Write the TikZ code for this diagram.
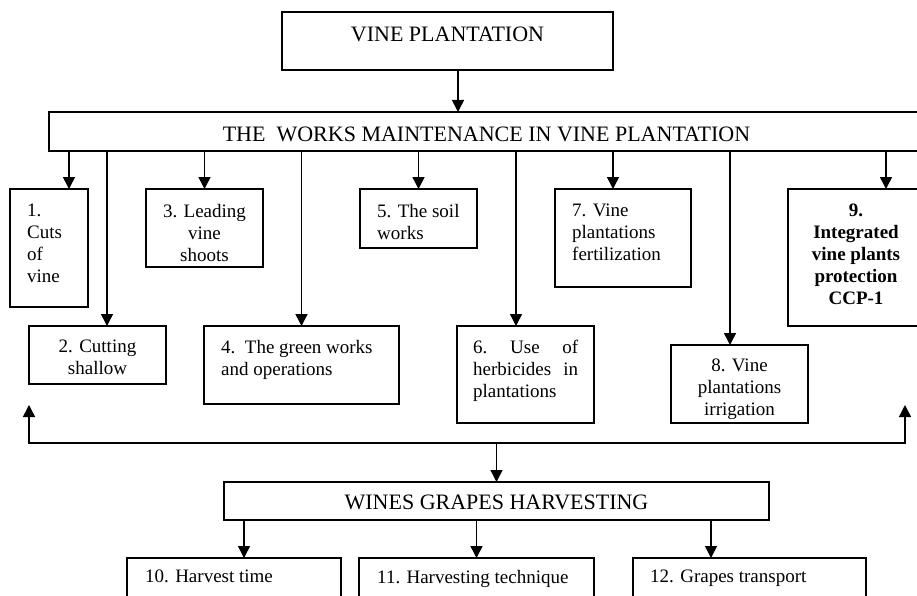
\documentclass[tikz,border=0pt]{standalone}
\usepackage{fontspec}
\setmainfont{Liberation Serif}
\usetikzlibrary{arrows.meta, positioning, calc}

\begin{document}
\begin{tikzpicture}[x=1pt, y=-1pt]
    % --- Style Definitions ---
    \tikzset{
        box style/.style={
            draw=black,
            line width=1.5pt,
            anchor=north west,
            inner sep=0pt,
            outer sep=0pt
        },
        head text/.style={
            font=\fontsize{22}{26}\selectfont,
            inner sep=0pt,
            anchor=north
        },
        body text/.style={
            font=\fontsize{19}{22}\selectfont,
            inner sep=0pt
        },
        link arrow/.style={
            -{Triangle[width=12pt, length=12pt]},
            line width=1.5pt
        },
        both arrow/.style={
            {Triangle[width=12pt, length=12pt]}-{Triangle[width=12pt, length=12pt]},
            line width=1.5pt
        }
    }

    \useasboundingbox (0,0) rectangle (917,596);
    \clip (0,0) rectangle (917,596);

    % --- 1. Headings ---
    \node[box style, minimum width=331pt, minimum height=58pt] (vine) at (282,12) {};
    \node[head text] (vine text) at ([yshift=-15pt]vine.north) {VINE PLANTATION};

    \node[box style, minimum width=875pt, minimum height=39pt] (works) at (49,112) {};
    \node[head text] (works text) at ([yshift=-15pt]works.north) {THE\ \ WORKS MAINTENANCE IN VINE PLANTATION};

    % --- 2. Maintenance works, upper row ---
    \node[box style, minimum width=78pt, minimum height=118pt] (b1) at (10,189) {};
    \node[body text, anchor=north west, align=left] (t1) at ([xshift=17pt, yshift=-15pt]b1.north west) {1.\\Cuts\\of\\vine};

    \node[box style, minimum width=117pt, minimum height=78pt] (b3) at (146,189) {};
    \node[body text, anchor=north, align=center] (t3) at ([yshift=-15pt]b3.north) {3. Leading\\vine\\shoots};

    \node[box style, minimum width=117pt, minimum height=59pt] (b5) at (360,189) {};
    \node[body text, anchor=north west, align=left] (t5) at ([xshift=17pt, yshift=-15pt]b5.north west) {5. The soil\\works};

    \node[box style, minimum width=136pt, minimum height=98pt] (b7) at (555,189) {};
    \node[body text, anchor=north west, align=left] (t7) at ([xshift=17pt, yshift=-15pt]b7.north west) {7. Vine\\plantations\\fertilization};

    \node[box style, minimum width=136pt, minimum height=137pt] (b9) at (788,189) {};
    \node[body text, anchor=north, align=center, font=\fontsize{19}{22}\selectfont\bfseries] (t9) at ([yshift=-15pt]b9.north) {9.\\Integrated\\vine plants\\protection\\CCP-1};

    % --- 3. Maintenance works, lower row ---
    \node[box style, minimum width=137pt, minimum height=58pt] (b2) at (29,326) {};
    \node[body text, anchor=north, align=center] (t2) at ([yshift=-14pt]b2.north) {2. Cutting\\shallow};

    \node[box style, minimum width=195pt, minimum height=78pt] (b4) at (204,326) {};
    \node[body text, anchor=north west, align=left] (t4) at ([xshift=17pt, yshift=-14pt]b4.north west) {4.\ \ The green works\\and operations};

    \node[box style, minimum width=137pt, minimum height=97pt] (b6) at (457,326) {};
    \node[body text, anchor=north west, align=left] (t6) at ([xshift=16pt, yshift=-14pt]b6.north west)
        {\hbox to 105pt{6.\hfill Use\hfill of}\\\hbox to 105pt{herbicides\hfill in}\\plantations};

    \node[box style, minimum width=137pt, minimum height=78pt] (b8) at (671,345) {};
    \node[body text, anchor=north, align=center] (t8) at ([yshift=-14pt]b8.north) {8. Vine\\plantations\\irrigation};

    % --- 4. Harvesting ---
    \node[box style, minimum width=545pt, minimum height=38pt] (harvest) at (224,482) {};
    \node[head text] (harvest text) at ([yshift=-13pt]harvest.north) {WINES GRAPES HARVESTING};

    \node[box style, minimum width=214pt, minimum height=60pt] (b10) at (127,558) {};
    \node[body text, anchor=north west] (t10) at ([xshift=18pt, yshift=-12pt]b10.north west) {10. Harvest time};

    \node[box style, minimum width=235pt, minimum height=60pt] (b11) at (359,558) {};
    \node[body text, anchor=north west] (t11) at ([xshift=18pt, yshift=-12pt]b11.north west) {11. Harvesting technique};

    \node[box style, minimum width=233pt, minimum height=60pt] (b12) at (633,558) {};
    \node[body text, anchor=north west] (t12) at ([xshift=17pt, yshift=-12pt]b12.north west) {12. Grapes transport};

    % --- 5. Connectors ---
    \draw[link arrow] ([xshift=10.5pt]vine.south) -- ([xshift=10.5pt]vine.south |- works.north);

    \draw[link arrow] ([xshift=20pt]b1.north |- works.south) -- ([xshift=20pt]b1.north);
    \draw[link arrow] ([xshift=9.5pt]b2.north |- works.south) -- ([xshift=9.5pt]b2.north);
    \draw[link arrow] (b3.north |- works.south) -- (b3.north);
    \draw[link arrow] (b4.north |- works.south) -- (b4.north);
    \draw[link arrow] (b5.north |- works.south) -- (b5.north);
    \draw[link arrow] ([xshift=-9.5pt]b6.north |- works.south) -- ([xshift=-9.5pt]b6.north);
    \draw[link arrow] ([xshift=-10pt]b7.north |- works.south) -- ([xshift=-10pt]b7.north);
    \draw[link arrow] ([xshift=-9.5pt]b8.north |- works.south) -- ([xshift=-9.5pt]b8.north);
    \draw[link arrow] ([xshift=30pt]b9.north |- works.south) -- ([xshift=30pt]b9.north);

    % feedback line back to the works
    \coordinate (fb left) at (29,443);
    \coordinate (fb right) at (905,443);
    \draw[both arrow] ([yshift=38pt]fb left) -- (fb left) -- (fb right) -- ([yshift=38pt]fb right);
    \draw[link arrow] (harvest.north |- fb left) -- (harvest.north);

    \draw[link arrow] ([xshift=10pt]b10.north |- harvest.south) -- ([xshift=10pt]b10.north);
    \draw[link arrow] (b11.north |- harvest.south) -- (b11.north);
    \draw[link arrow] ([xshift=-38.5pt]b12.north |- harvest.south) -- ([xshift=-38.5pt]b12.north);

\end{tikzpicture}
\end{document}
